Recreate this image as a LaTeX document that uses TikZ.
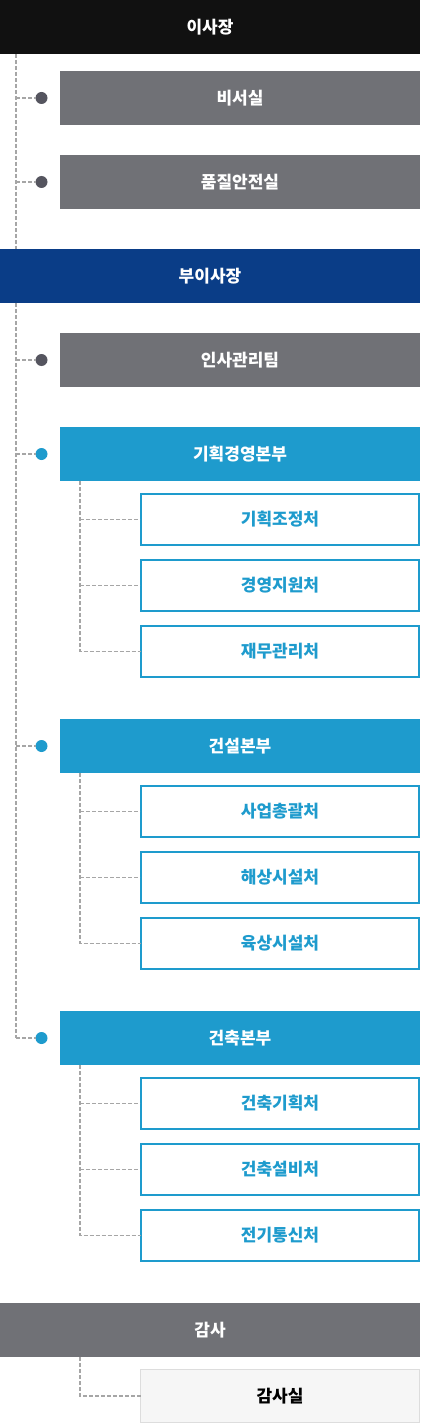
\documentclass[tikz,border=0pt]{standalone}
\usepackage{fontspec}
\setmainfont{Noto Sans CJK KR}
\definecolor{cblack}{HTML}{111111}
\definecolor{cnavy}{HTML}{0A3D87}
\definecolor{cgray}{HTML}{707176}
\definecolor{cblue}{HTML}{1E9BCD}
\definecolor{cdark}{HTML}{55555F}
\definecolor{cline}{HTML}{A6A6A6}
\definecolor{cpale}{HTML}{F6F6F6}
\definecolor{cpaleborder}{HTML}{DDDDDD}
\begin{document}
\begin{tikzpicture}[x=1pt,y=-1pt,
  lbl/.style={font=\fontsize{17}{17}\selectfont\bfseries},
  bar/.style={lbl, anchor=north west, inner sep=0pt, outer sep=0pt, minimum width=420pt, minimum height=54pt, text=white},
  gbox/.style={lbl, anchor=north west, inner sep=0pt, outer sep=0pt, minimum width=360pt, minimum height=54pt, text=white, fill=cgray},
  bbox/.style={gbox, fill=cblue},
  sbox/.style={lbl, anchor=north west, inner sep=0pt, outer sep=0pt, minimum width=278pt, minimum height=51pt, draw=cblue, line width=2pt, fill=white, text=cblue},
  pbox/.style={lbl, anchor=north west, inner sep=0pt, outer sep=0pt, minimum width=279pt, minimum height=53pt, draw=cpaleborder, line width=1pt, fill=cpale, text=black},
  gdot/.style={circle, fill=cdark, minimum size=12pt, inner sep=0pt, outer sep=0pt},
  bdot/.style={gdot, fill=cblue},
  conn/.style={draw=cline, line width=1.5pt, dash pattern=on 4pt off 2pt}
]
\useasboundingbox (0,0) rectangle (420,1423);
\fill[white] (0,0) rectangle (420,1423);

% spine coordinates
\coordinate (sp1) at (16,54);
\coordinate (sp2) at (16,303);
\coordinate (sub1) at (80,481);
\coordinate (sub2) at (80,773);
\coordinate (sub3) at (80,1065);
\coordinate (sub4) at (80,1357);

% dots
\node[gdot] (d1) at (41.5,98) {};
\node[gdot] (d2) at (41.5,182) {};
\node[gdot] (d3) at (41.5,360) {};
\node[bdot] (d4) at (41.5,454) {};
\node[bdot] (d5) at (41.5,746) {};
\node[bdot] (d6) at (41.5,1038) {};

% connectors first (under boxes)
\draw[conn] (sp1) -- (16,249);
\draw[conn] (sp1 |- d1) -- (d1.west);
\draw[conn] (sp1 |- d2) -- (d2.west);
\draw[conn] (sp2) -- (sp2 |- d6);
\draw[conn] (sp2 |- d3) -- (d3.west);
\draw[conn] (sp2 |- d4) -- (d4.west);
\draw[conn] (sp2 |- d5) -- (d5.west);
\draw[conn] (sp2 |- d6) -- (d6.west);

% boxes
\node[bar, fill=cblack] (chair) at (0,0) {이사장};
\node[gbox] (sec) at (60,71) {비서실};
\node[gbox] (qual) at (60,155) {품질안전실};
\node[bar, fill=cnavy] (vice) at (0,249) {부이사장};
\node[gbox] (hr) at (60,333) {인사관리팀};

\node[bbox] (plan) at (60,427) {기획경영본부};
\node[sbox] (p1) at (141,494) {기획조정처};
\node[sbox] (p2) at (141,560) {경영지원처};
\node[sbox] (p3) at (141,626) {재무관리처};

\node[bbox] (cons) at (60,719) {건설본부};
\node[sbox] (c1) at (141,786) {사업총괄처};
\node[sbox] (c2) at (141,852) {해상시설처};
\node[sbox] (c3) at (141,918) {육상시설처};

\node[bbox] (arch) at (60,1011) {건축본부};
\node[sbox] (a1) at (141,1078) {건축기획처};
\node[sbox] (a2) at (141,1144) {건축설비처};
\node[sbox] (a3) at (141,1210) {전기통신처};

\node[bar, fill=cgray] (audit) at (0,1303) {감사};
\node[pbox] (aud1) at (140.5,1369.5) {감사실};

% sub connectors
\draw[conn] (sub1) -- (sub1 |- p3.west) -- (p3.west);
\draw[conn] (sub1 |- p1.west) -- ([xshift=-1pt]p1.west);
\draw[conn] (sub1 |- p2.west) -- ([xshift=-1pt]p2.west);
\draw[conn] (sub2) -- (sub2 |- c3.west) -- (c3.west);
\draw[conn] (sub2 |- c1.west) -- ([xshift=-1pt]c1.west);
\draw[conn] (sub2 |- c2.west) -- ([xshift=-1pt]c2.west);
\draw[conn] (sub3) -- (sub3 |- a3.west) -- (a3.west);
\draw[conn] (sub3 |- a1.west) -- ([xshift=-1pt]a1.west);
\draw[conn] (sub3 |- a2.west) -- ([xshift=-1pt]a2.west);
\draw[conn] (sub4) -- (sub4 |- aud1.west) -- (aud1.west);
\end{tikzpicture}
\end{document}
